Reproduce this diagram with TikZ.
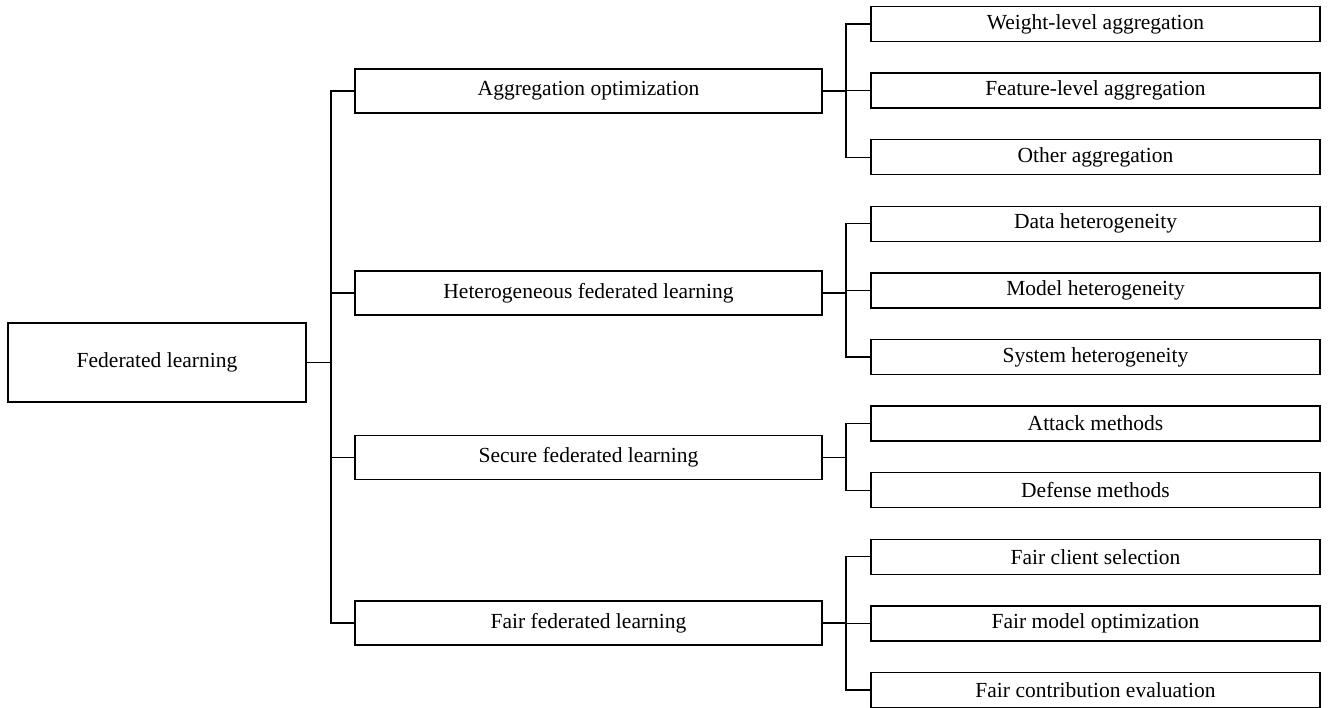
\documentclass[tikz,border=0pt]{standalone}
\usepackage{fontspec}
\setmainfont{Liberation Serif}

\tikzset{
	rootbox/.style={draw, line width=1.3pt, minimum width=298pt, minimum height=79pt, inner sep=0pt, font=\fontsize{21.5}{25}\selectfont},
	midbox/.style={draw, line width=1.3pt, minimum width=467pt, minimum height=44pt, inner sep=0pt, font=\fontsize{21.5}{25}\selectfont},
	leafbox/.style={draw, line width=1.3pt, minimum width=449pt, minimum height=35pt, inner sep=0pt, font=\fontsize{21.5}{25}\selectfont},
	link/.style={line width=1.3pt}
}

\begin{document}
\begin{tikzpicture}[x=1pt,y=1pt,yscale=-1,xscale=1]
		\useasboundingbox (0,0) rectangle (1333,708); % Set diagram size to 1333 x 708

		% Root box
		\node[rootbox] (fl) at (157,362.5) {Federated learning};

		% Middle level boxes
		\node[midbox] (agg) at (588.5,91) {Aggregation optimization};
		\node[midbox] (het) at (588.5,293) {Heterogeneous federated learning};
		\node[midbox] (sec) at (588.5,457.5) {Secure federated learning};
		\node[midbox] (fair) at (588.5,623) {Fair federated learning};

		% Leaf boxes, one row every 66.6
		\node[leafbox] (aggw) at (1095.5,24) {Weight-level aggregation};
		\node[leafbox] (aggf) at (1095.5,90.6) {Feature-level aggregation};
		\node[leafbox] (aggo) at (1095.5,157.2) {Other aggregation};
		\node[leafbox] (hetd) at (1095.5,223.8) {Data heterogeneity};
		\node[leafbox] (hetm) at (1095.5,290.4) {Model heterogeneity};
		\node[leafbox] (hets) at (1095.5,357) {System heterogeneity};
		\node[leafbox] (seca) at (1095.5,423.6) {Attack methods};
		\node[leafbox] (secd) at (1095.5,490.2) {Defense methods};
		\node[leafbox] (fairc) at (1095.5,556.8) {Fair client selection};
		\node[leafbox] (fairm) at (1095.5,623.4) {Fair model optimization};
		\node[leafbox] (fairv) at (1095.5,690) {Fair contribution evaluation};

		% Spine x positions
		\coordinate (sp1) at (331,0);
		\coordinate (sp2) at (846,0);

		% Root to middle level
		\draw[link] (fl.east) -- (fl.east -| sp1);
		\draw[link] (agg.west) -- (agg.west -| sp1) -- (sp1 |- fair.west) -- (fair.west);
		\draw[link] (het.west) -- (het.west -| sp1);
		\draw[link] (sec.west) -- (sec.west -| sp1);

		% Middle level to leaves
		\foreach \mid/\first/\last in {agg/aggw/aggo, het/hetd/hets, sec/seca/secd, fair/fairc/fairv}{
			\draw[link] (\mid.east) -- (\mid.east -| sp2);
			\draw[link] (\first.west) -- (\first.west -| sp2) -- (sp2 |- \last.west) -- (\last.west);
		}
		\draw[link] (aggf.west) -- (aggf.west -| sp2);
		\draw[link] (hetm.west) -- (hetm.west -| sp2);
		\draw[link] (fairm.west) -- (fairm.west -| sp2);
	\end{tikzpicture}
\end{document}
